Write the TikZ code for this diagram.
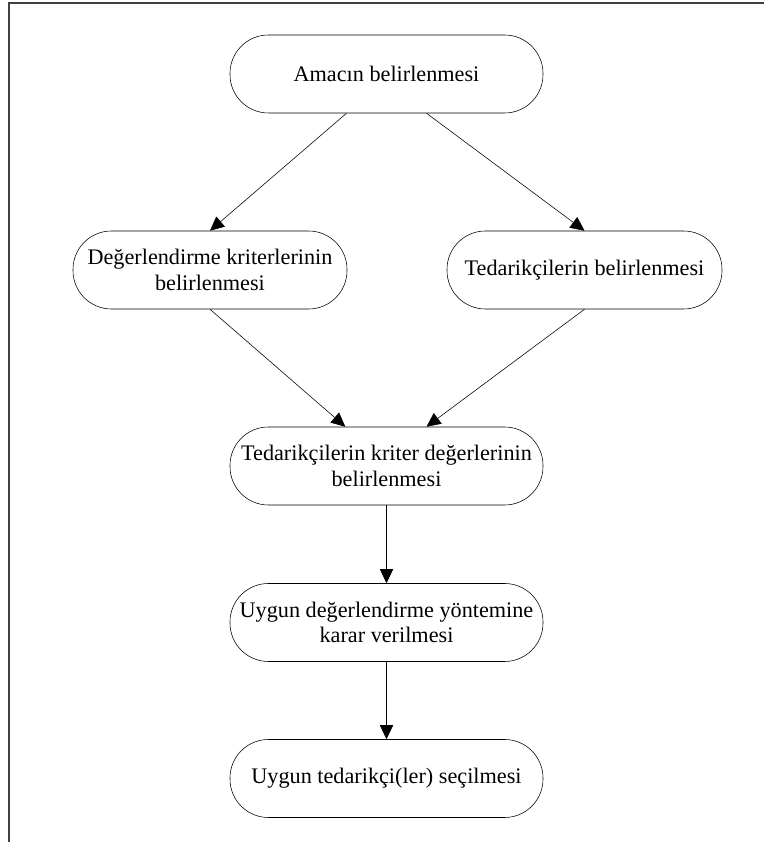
\documentclass[tikz,border=0pt]{standalone}
\usepackage{fontspec}
\setmainfont{Liberation Serif}
\usetikzlibrary{arrows.meta}

\begin{document}
\begin{tikzpicture}[box/.style={draw, rounded corners=.96cm, minimum width=7.825cm, minimum height=1.95cm, align=center, font=\fontsize{15.8}{18}\selectfont}, >={Triangle[length=.35cm,width=.33cm]}]
\useasboundingbox (0,0) rectangle (19.1,21.05);
\draw[line width=1.2pt, black!75] (.225,0) -- (.225,20.975) -- (19.1,20.975);
\node[box] (one) at (9.6625,19.2) {Amacın belirlenmesi};
\node[box, minimum width=6.85cm] (two) at (5.25,14.3) {Değerlendirme kriterlerinin\\belirlenmesi};
\node[box, minimum width=6.875cm] (three) at (14.6125,14.3) {Tedarikçilerin belirlenmesi};
\node[box] (four) at (9.6625,9.4) {Tedarikçilerin kriter değerlerinin\\belirlenmesi};
\node[box] (five) at (9.6625,5.4875) {Uygun değerlendirme yöntemine\\karar verilmesi};
\node[box] (six) at (9.6625,1.5875) {Uygun tedarikçi(ler) seçilmesi};
\draw[->] ([xshift=-1cm]one.south) -- (two.north);
\draw[->] ([xshift=1cm]one.south) -- (three.north);
\draw[->] (two.south) -- ([xshift=-1.03cm]four.north);
\draw[->] (three.south) -- ([xshift=1cm]four.north);
\draw[->] (four) -- (five);
\draw[->] (five) -- (six);
\end{tikzpicture}
\end{document}
